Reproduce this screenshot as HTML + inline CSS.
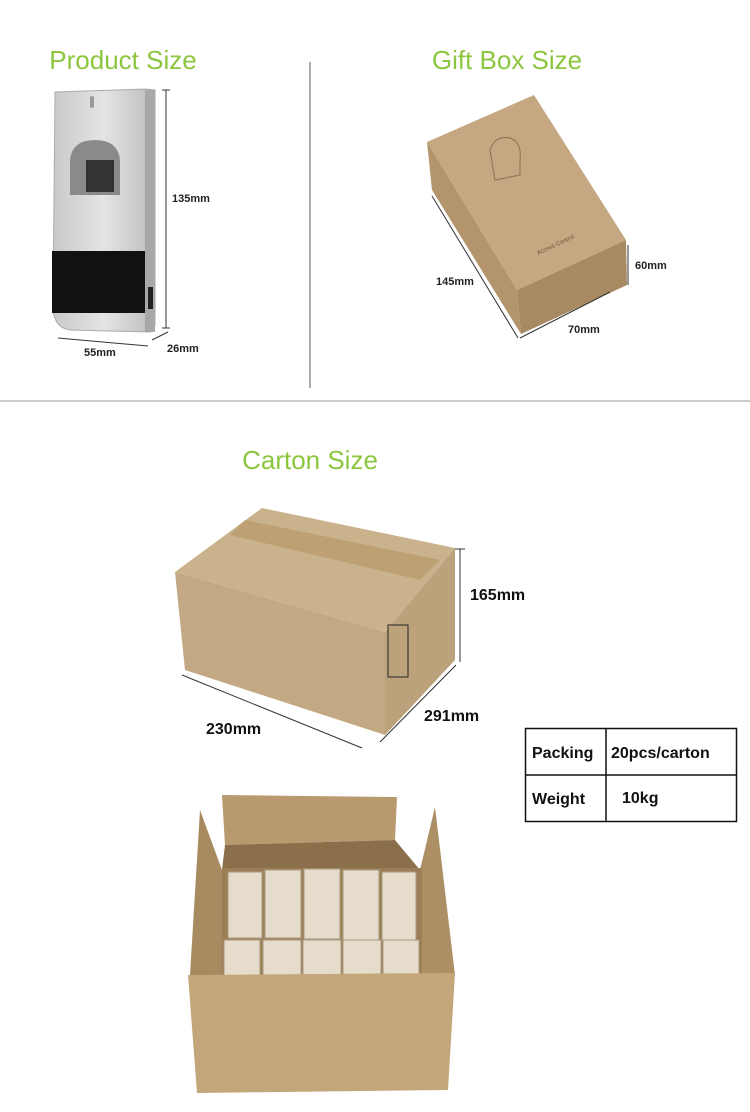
<!DOCTYPE html>
<html><head><style>
body{margin:0;background:#fff;width:750px;height:1107px;overflow:hidden;font-family:"Liberation Sans",sans-serif}
svg text{font-family:"Liberation Sans",sans-serif}
</style></head><body>
<svg width="750" height="1107" viewBox="0 0 750 1107" xmlns="http://www.w3.org/2000/svg">
<defs>
<linearGradient id="met" x1="0" x2="1"><stop offset="0" stop-color="#c9c9c9"/><stop offset=".5" stop-color="#e4e4e4"/><stop offset="1" stop-color="#bcbcbc"/></linearGradient>
</defs>
<g font-size="26" fill="#8cc63e" text-anchor="middle" font-weight="300">
<text x="123" y="69">Product Size</text>
<text x="507" y="69">Gift Box Size</text>
<text x="310" y="469">Carton Size</text>
</g>
<line x1="310" y1="62" x2="310" y2="388" stroke="#777" stroke-width="1.2"/>
<line x1="0" y1="401" x2="750" y2="401" stroke="#999" stroke-width="1"/>

<!-- product -->
<path d="M55 92 L145 89 L155 90 L155 325 L150 332 L70 330 Q55 328 53 310 Z" fill="url(#met)" stroke="#aaa"/>
<rect x="145" y="90" width="10" height="242" fill="#a8a8a8"/>
<rect x="90" y="96" width="4" height="12" rx="2" fill="#999"/>
<path d="M70 195 L70 160 Q72 140 95 140 Q118 140 120 160 L120 195 Z" fill="#8a8a8a"/>
<rect x="86" y="160" width="28" height="32" fill="#333"/>
<rect x="52" y="251" width="93" height="62" fill="#111"/>
<rect x="148" y="287" width="5" height="22" fill="#222"/>
<g stroke="#333" fill="none" stroke-width="1">
<line x1="166" y1="90" x2="166" y2="328"/><line x1="162" y1="90" x2="170" y2="90"/><line x1="162" y1="328" x2="170" y2="328"/>
<line x1="58" y1="338" x2="148" y2="346"/><line x1="152" y1="340" x2="168" y2="332"/>
</g>
<g font-size="11" font-weight="bold" fill="#222">
<text x="172" y="202">135mm</text><text x="84" y="356">55mm</text><text x="167" y="352">26mm</text>
</g>

<!-- gift box -->
<path d="M427 142 L534 95 L626 240 L517 290 Z" fill="#c5a882"/>
<path d="M427 142 L517 290 L521 334 L432 190 Z" fill="#b3946c"/>
<path d="M517 290 L626 240 L627 285 L521 334 Z" fill="#a88a62"/>
<path d="M490 150 Q495 135 510 138 Q522 142 520 160 L520 175 L495 180 Z" fill="none" stroke="#8c7050"/>
<text x="538" y="255" font-size="6" fill="#6a5436" transform="rotate(-25 538 255)">Access Control</text>
<g stroke="#333" fill="none"><line x1="432" y1="196" x2="518" y2="338"/><line x1="520" y1="338" x2="610" y2="292"/><line x1="628" y1="245" x2="628" y2="285"/></g>
<g font-size="11" font-weight="bold" fill="#222"><text x="436" y="285">145mm</text><text x="568" y="333">70mm</text><text x="635" y="269">60mm</text></g>

<!-- carton -->
<path d="M175 572 L262 508 L455 548 L385 632 Z" fill="#c9b28c"/>
<path d="M175 572 L385 632 L385 735 L185 670 Z" fill="#c2a983"/>
<path d="M385 632 L455 548 L455 660 L385 735 Z" fill="#bca27b"/>
<path d="M230 535 L420 580 L440 560 L245 520 Z" fill="#b89a6a" opacity=".7"/>
<rect x="388" y="625" width="20" height="52" fill="none" stroke="#222"/>
<g stroke="#333" fill="none"><line x1="460" y1="549" x2="460" y2="662"/><line x1="455" y1="549" x2="465" y2="549"/><line x1="182" y1="675" x2="362" y2="748"/><line x1="380" y1="742" x2="456" y2="665"/></g>
<g font-size="16" font-weight="bold" fill="#111"><text x="470" y="600">165mm</text><text x="424" y="721">291mm</text><text x="206" y="734">230mm</text></g>

<!-- table -->
<rect x="525.5" y="728.5" width="211" height="93" fill="none" stroke="#111" stroke-width="1.5"/>
<line x1="525" y1="775" x2="737" y2="775" stroke="#111" stroke-width="1.5"/>
<line x1="606" y1="728" x2="606" y2="822" stroke="#111" stroke-width="1.5"/>
<g font-size="16" font-weight="bold" fill="#111"><text x="532" y="758">Packing</text><text x="611" y="758">20pcs/carton</text><text x="532" y="804">Weight</text><text x="622" y="803">10kg</text></g>

<!-- open box -->
<path d="M222 795 L397 797 L395 840 L225 845 Z" fill="#b99a70"/>
<path d="M200 810 L222 870 L225 975 L190 975 Z" fill="#a88a60"/>
<path d="M435 807 L420 870 L420 975 L455 975 Z" fill="#ad8f65"/>
<path d="M225 845 L395 840 L420 870 L222 870 Z" fill="#8b6f4a"/>
<rect x="222" y="868" width="200" height="108" fill="#9c7e56"/>
<g fill="#e6dccb" stroke="#a89a80">
<rect x="228" y="872" width="34" height="66"/><rect x="265" y="870" width="36" height="68"/><rect x="304" y="869" width="36" height="70"/><rect x="343" y="870" width="36" height="70"/><rect x="382" y="872" width="34" height="68"/>
<rect x="224" y="940" width="36" height="36"/><rect x="263" y="940" width="38" height="36"/><rect x="303" y="940" width="38" height="36"/><rect x="343" y="940" width="38" height="36"/><rect x="383" y="940" width="36" height="36"/>
</g>
<path d="M188 975 L455 973 L448 1090 L197 1093 Z" fill="#c4a67b"/>
</svg>
</body></html>
